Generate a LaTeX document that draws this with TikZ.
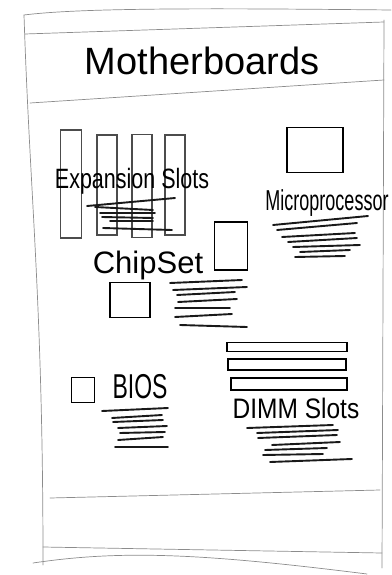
\documentclass[tikz,border=0pt]{standalone}
\usepackage{fontspec}
\setmainfont{Liberation Sans}
\newcommand{\hand}[4]{\scalebox{#1}[#2]{\fontsize{#3}{#3}\selectfont #4}}
\begin{document}
\begin{tikzpicture}[x=1pt,y=-1pt,
  frame/.style={draw=black!45, line width=0.7pt, line cap=round},
  slotbox/.style={draw=black!70, line width=1.4pt, minimum width=21pt, inner sep=0pt},
  part/.style={draw=black, line width=1.8pt, inner sep=0pt},
  scrib/.style={draw=black!90, line width=1.9pt, line cap=round},
  lbl/.style={inner sep=0pt, anchor=base, text=black}]
\useasboundingbox (0,0) rectangle (391,575);

% sheet outline
\draw[frame] (24,15) .. controls (80,8) and (200,8) .. (391,10);
\draw[frame] (24,15) .. controls (30,200) and (43,300) .. (43,565);
\draw[frame] (384,20) -- (382,568);
\draw[frame] (33,563) .. controls (120,550) and (200,553) .. (367,574);
% header band
\draw[frame] (25,34) -- (384,22);
\draw[frame] (30,103) -- (384,80);
% footer band
\draw[frame] (50,498) -- (380,490);
\draw[frame] (43,547) -- (382,553);

% title
\node[lbl] (title) at (202,75) {\fontsize{38}{38}\selectfont Motherboards};

% expansion slots
\node[slotbox, minimum height=108pt] (s1) at (71,184) {};
\node[slotbox, minimum height=100pt, minimum width=20pt] (s2) at (107,185) {};
\node[slotbox, minimum height=103pt, minimum width=20pt] (s3) at (142,186) {};
\node[slotbox, minimum height=100pt, minimum width=20pt] (s4) at (175,185) {};
\node[lbl] (exp) at (132,188) {\hand{1}{1.3}{21.5}{Expansion Slots}};
\foreach \a/\b/\c/\d in {87/206/175/198, 95/207/153/210, 100/213/155/213,
  102/217/153/218, 110/221/153/221, 103/228/172/230}
  \draw[scrib] (\a,\b) -- (\c,\d);

% microprocessor
\node[part, minimum width=56pt, minimum height=45pt] (cpu) at (315,150) {};
\node[lbl] (cpulbl) at (327,210) {\hand{1}{1.6}{18}{Microprocessor}};
\foreach \a/\b/\c/\d in {273/225/368/216, 277/230/357/223, 282/237/355/233,
  288/242/357/238, 293/247/360/245, 300/252/350/250, 295/257/345/256}
  \draw[scrib] (\a,\b) -- (\c,\d);

% chip set
\node[part, minimum width=33pt, minimum height=48pt] (chipa) at (231,246) {};
\node[part, minimum width=40pt, minimum height=35pt] (chipb) at (130,300) {};
\node[lbl] (chiplbl) at (148,273) {\fontsize{31}{31}\selectfont ChipSet};
\foreach \a/\b/\c/\d in {170/283/242/280, 173/290/247/287, 177/295/235/292,
  178/302/237/299, 175/308/230/308, 175/317/232/314, 180/325/247/327}
  \draw[scrib] (\a,\b) -- (\c,\d);

% bios
\node[part, minimum width=23pt, minimum height=25pt] (biosbox) at (83,390) {};
\node[lbl] (bioslbl) at (140,398) {\hand{1}{1.5}{23}{BIOS}};
\foreach \a/\b/\c/\d in {102/411/168/408, 112/418/162/415, 113/422/163/420,
  118/428/167/426, 120/433/165/432, 118/440/163/437, 115/447/168/447}
  \draw[scrib] (\a,\b) -- (\c,\d);

% DIMM slots
\node[part, minimum width=120pt, minimum height=9pt] (d1) at (287,347) {};
\node[part, minimum width=118pt, minimum height=11pt] (d2) at (287,364.5) {};
\node[part, minimum width=116pt, minimum height=12pt] (d3) at (289,384) {};
\node[lbl] (dimmlbl) at (296,418) {\hand{1}{1.15}{24.5}{DIMM Slots}};
\foreach \a/\b/\c/\d in {247/428/333/425, 257/433/338/430, 258/438/337/435,
  272/445/340/442, 265/450/327/448, 263/455/323/454, 270/462/352/459}
  \draw[scrib] (\a,\b) -- (\c,\d);
\end{tikzpicture}
\end{document}
